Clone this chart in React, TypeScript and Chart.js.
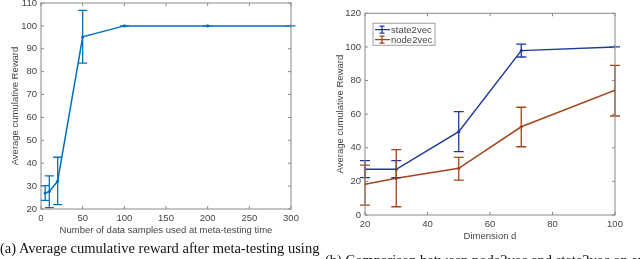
import React, { useEffect, useRef } from "react";
import { Chart, registerables } from "chart.js";

Chart.register(...registerables);

// ---- Data: left chart (a) ----
const samplesX = [5, 10, 20, 50, 100, 200, 300];
const samplesMean = [27.0, 27.6, 32.2, 95.2, 100, 100, 100];
const samplesLo = [23.8, 20.6, 21.9, 83.7, 100, 100, 100];
const samplesHi = [30.2, 34.5, 42.6, 106.8, 100, 100, 100];

// ---- Data: right chart (b) ----
const dimX = [20, 30, 50, 70, 100];
const state2vecMean = [27.2, 27.2, 49.6, 97.8, 100];
const state2vecLo = [22.2, 22.2, 37.7, 94.0, 100];
const state2vecHi = [32.3, 32.3, 61.5, 101.7, 100];
const node2vecMean = [18.3, 21.8, 27.8, 52.5, 74.2];
const node2vecLo = [5.9, 4.9, 20.8, 40.6, 58.9];
const node2vecHi = [29.7, 38.9, 34.3, 64.1, 89.0];

const captionA = "(a) Average cumulative reward after meta-testing using";
const captionB = "(b) Comparison between node2vec and state2vec on an";

const TEXT = "#444444";
const AXIS = "#8a8a8a";
const FONT = "'Liberation Sans', Arial, sans-serif";

const matlabPlugin = {
  id: "matlab",
  afterDatasetsDraw(chart: any, _args: any, opts: any) {
    const { ctx, chartArea: a, scales } = chart;
    const xs = scales.x;
    const ys = scales.y;
    ctx.save();
    // error bars
    chart.data.datasets.forEach((ds: any) => {
      ctx.strokeStyle = ds.borderColor;
      ctx.lineWidth = 1.3;
      ds.data.forEach((p: any, i: number) => {
        const px = xs.getPixelForValue(p.x);
        const pl = ys.getPixelForValue(ds.errLo[i]);
        const ph = ys.getPixelForValue(ds.errHi[i]);
        const w = opts.cap || 4.5;
        ctx.beginPath();
        ctx.moveTo(px, pl);
        ctx.lineTo(px, ph);
        ctx.moveTo(px - w, pl);
        ctx.lineTo(px + w, pl);
        ctx.moveTo(px - w, ph);
        ctx.lineTo(px + w, ph);
        ctx.stroke();
      });
    });
    // box
    ctx.strokeStyle = AXIS;
    ctx.lineWidth = 1;
    ctx.strokeRect(a.left, a.top, a.right - a.left, a.bottom - a.top);
    // inward ticks
    const tl = 3;
    ctx.beginPath();
    xs.ticks.forEach((t: any) => {
      const px = xs.getPixelForValue(t.value);
      ctx.moveTo(px, a.bottom);
      ctx.lineTo(px, a.bottom - tl);
      ctx.moveTo(px, a.top);
      ctx.lineTo(px, a.top + tl);
    });
    ys.ticks.forEach((t: any) => {
      const py = ys.getPixelForValue(t.value);
      ctx.moveTo(a.left, py);
      ctx.lineTo(a.left + tl, py);
      ctx.moveTo(a.right, py);
      ctx.lineTo(a.right - tl, py);
    });
    ctx.stroke();
    // legend
    if (opts.legend) {
      const bx = a.left + 8;
      const by = a.top + 10;
      const bw = 62;
      const bh = 22;
      ctx.fillStyle = "#ffffff";
      ctx.fillRect(bx, by, bw, bh);
      ctx.strokeStyle = "#a0a0a0";
      ctx.lineWidth = 1;
      ctx.strokeRect(bx, by, bw, bh);
      chart.data.datasets.forEach((ds: any, i: number) => {
        const ry = by + 6.3 + i * 10;
        const cx = bx + 9;
        ctx.strokeStyle = ds.borderColor;
        ctx.lineWidth = 1.3;
        ctx.beginPath();
        ctx.moveTo(bx + 2, ry);
        ctx.lineTo(bx + 17, ry);
        ctx.moveTo(cx, ry - 3.5);
        ctx.lineTo(cx, ry + 3.5);
        ctx.moveTo(cx - 2.5, ry - 3.5);
        ctx.lineTo(cx + 2.5, ry - 3.5);
        ctx.moveTo(cx - 2.5, ry + 3.5);
        ctx.lineTo(cx + 2.5, ry + 3.5);
        ctx.stroke();
        ctx.fillStyle = TEXT;
        ctx.font = `9.5px ${FONT}`;
        ctx.textBaseline = "middle";
        ctx.textAlign = "left";
        ctx.fillText(ds.label, bx + 18, ry + 0.5);
      });
    }
    ctx.restore();
  },
};

function makeDataset(label: string, xs: number[], ys: number[], lo: number[], hi: number[], color: string) {
  return {
    label,
    data: xs.map((x, i) => ({ x, y: ys[i] })),
    errLo: lo,
    errHi: hi,
    borderColor: color,
    backgroundColor: color,
    pointBackgroundColor: color,
    pointBorderColor: color,
    pointRadius: 1.6,
    pointBorderWidth: 0,
    borderWidth: 1.5,
    showLine: true,
    tension: 0,
    fill: false,
  } as any;
}

function axis(opts: any) {
  return {
    type: "linear",
    min: opts.min,
    max: opts.max,
    ticks: {
      stepSize: opts.step,
      padding: opts.tickPad,
      color: TEXT,
      font: { family: FONT, size: 9.5 },
      autoSkip: false,
      maxRotation: 0,
    },
    grid: { display: false, drawTicks: false },
    border: { display: false },
    title: {
      display: true,
      text: opts.title,
      color: TEXT,
      font: { family: FONT, size: 9.5 },
      padding: opts.titlePad,
    },
    afterFit: opts.afterFit,
  };
}

function ChartCanvas({ config, style }: { config: any; style: React.CSSProperties }) {
  const ref = useRef<HTMLCanvasElement | null>(null);
  useEffect(() => {
    if (!ref.current) return;
    const chart = new Chart(ref.current, config);
    return () => chart.destroy();
  }, []);
  return <canvas ref={ref} width={320} height={255} style={{ position: "absolute", ...style }} />;
}

const captionStyle: React.CSSProperties = {
  position: "absolute",
  whiteSpace: "nowrap",
  fontFamily: "'Liberation Serif', 'Times New Roman', serif",
  fontSize: 14.5,
  lineHeight: "18px",
  color: "#111",
};

export default function App() {
  const configA = {
    type: "scatter",
    data: {
      datasets: [makeDataset("samples", samplesX, samplesMean, samplesLo, samplesHi, "#0072BD")],
    },
    options: {
      responsive: false,
      animation: false,
      layout: { padding: { left: 0, top: 13, right: 29, bottom: 0 } },
      plugins: { legend: { display: false }, tooltip: { enabled: false }, matlab: { cap: 4.5 } },
      scales: {
        x: axis({
          min: 0, max: 300, step: 50, tickPad: 4,
          title: "Number of data samples used at meta-testing time",
          titlePad: { top: 0, bottom: 8.6 },
          afterFit: (s: any) => { s.height = 36; },
        }),
        y: axis({
          min: 20, max: 110, step: 10, tickPad: 4,
          title: "Average cumulative Reward",
          titlePad: { top: 9.3, bottom: 0 },
          afterFit: (s: any) => { s.width = 41; },
        }),
      },
    },
    plugins: [matlabPlugin],
  };

  const configB = {
    type: "scatter",
    data: {
      datasets: [
        makeDataset("state2vec", dimX, state2vecMean, state2vecLo, state2vecHi, "#1f3a9e"),
        makeDataset("node2vec", dimX, node2vecMean, node2vecLo, node2vecHi, "#a5441b"),
      ],
    },
    options: {
      responsive: false,
      animation: false,
      layout: { padding: { left: 0, top: 23.3, right: 25, bottom: 0 } },
      plugins: { legend: { display: false }, tooltip: { enabled: false }, matlab: { cap: 5, legend: true } },
      scales: {
        x: axis({
          min: 20, max: 100, step: 20, tickPad: 3.6,
          title: "Dimension d",
          titlePad: { top: 0, bottom: 2.8 },
          afterFit: (s: any) => { s.height = 30; },
        }),
        y: axis({
          min: 0, max: 120, step: 20, tickPad: 4,
          title: "Average cumulative Reward",
          titlePad: { top: 15, bottom: 0 },
          afterFit: (s: any) => { s.width = 45; },
        }),
      },
    },
    plugins: [matlabPlugin],
  };

  return (
    <div
      style={{
        position: "fixed",
        left: 0,
        top: 0,
        width: 640,
        height: 259,
        overflow: "hidden",
        background: "#ffffff",
      }}
    >
      <ChartCanvas config={configA} style={{ left: 0, top: -10 }} />
      <ChartCanvas config={configB} style={{ left: 320, top: -10 }} />
      <div style={{ ...captionStyle, left: 0, top: 239 }}>{captionA}</div>
      <div style={{ ...captionStyle, left: 325, top: 251 }}>{captionB}</div>
    </div>
  );
}
